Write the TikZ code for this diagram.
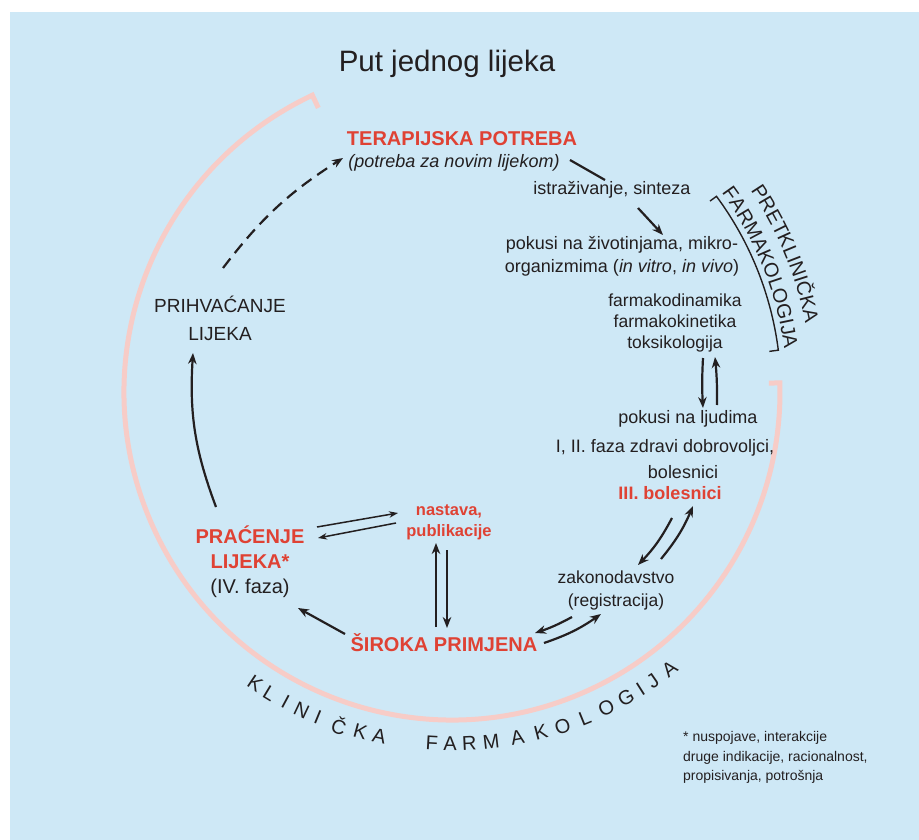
\documentclass[tikz,border=0pt]{standalone}
\usepackage{fontspec}
\setmainfont{Liberation Sans}
\usetikzlibrary{arrows.meta,calc,decorations.text}
\definecolor{bgblue}{HTML}{CEE8F6}
\definecolor{pinkarc}{HTML}{F7CCC7}
\definecolor{redt}{HTML}{DF4234}
\definecolor{ink}{HTML}{231F20}
\begin{document}
\begin{tikzpicture}[x=1pt,y=1pt,
  txt/.style={text=ink, inner sep=0pt, align=center, font=\fontsize{18}{22}\selectfont},
  redh/.style={text=redt, inner sep=0pt, align=center, font=\bfseries\fontsize{20}{24}\selectfont},
  arr/.style={draw=ink, line width=2.2pt, -{Stealth[length=11pt,width=8.5pt]}},
  arrthin/.style={draw=ink, line width=1.5pt, -{Stealth[length=9pt,width=6.5pt]}},
  plainln/.style={draw=ink, line width=2.2pt},
  pinkline/.style={draw=pinkarc, line width=5pt},
  bracketln/.style={draw=ink, line width=1.4pt},
  arcletter/.style={text=ink, inner sep=0pt, font=\fontsize{20}{20}\selectfont}]

\useasboundingbox (0,0) rectangle (919,-840);
\fill[white] (0,0) rectangle (919,-840);
\fill[bgblue] (10,-12) rectangle (919,-840);

\coordinate (C) at (452,-392);

% pink circle arc with hooks
\draw[pinkline, line join=miter] ($(C)+(115.2:314pt)$) -- ($(C)+(115.2:328pt)$)
  arc[start angle=115.2, end angle=361.6, radius=328pt] -- ($(C)+(361.6:317pt)$);

% preclinical bracket
\draw[bracketln] ($(C)+(36.5:321pt)$) -- ($(C)+(36.5:329pt)$)
  arc[start angle=36.5, end angle=7.3, radius=329pt] -- ($(C)+(7.3:320pt)$);

\path[decorate, decoration={text along path, text color=ink,
    text={|\fontsize{20}{20}\selectfont|PRETKLINIČKA}, text align=center}]
  ($(C)+(40:360pt)$) arc[start angle=40, end angle=5, radius=360pt];
\path[decorate, decoration={text along path, text color=ink,
    text={|\fontsize{20}{20}\selectfont|FARMAKOLOGIJA}, text align=center}]
  ($(C)+(39.4:335pt)$) arc[start angle=39.4, end angle=4.4, radius=335pt];

% bottom arc letters
\foreach \a/\l [count=\i] in {-124.0/K, -121.2/L, -118.2/I, -115.3/N, -112.4/I, -108.7/Č, -105.1/K, -101.9/A,
    -93.3/F, -90.3/A, -87.2/R, -83.6/M, -79.3/A, -75.4/K, -71.7/O, -67.8/L, -64.0/O, -60.4/G, -57.6/I, -55.2/J, -51.8/A}
  \node[arcletter, rotate=\a+90] (kf\i) at ($(C)+(\a:352pt)$) {\l};

% text nodes
\node[txt, font=\fontsize{29.5}{33}\selectfont] (title) at (447,-64) {Put jednog lijeka};
\node[redh] (terap) at (462,-139) {TERAPIJSKA POTREBA};
\node[txt, font=\fontsize{18}{22}\selectfont\itshape] (potreba) at (454,-163) {(potreba za novim lijekom)};
\node[txt] (istraz) at (612,-190) {istraživanje, sinteza};
\node[txt, font=\fontsize{18}{23}\selectfont] (pokusiz) at (622,-256) {pokusi na životinjama, mikro-\\organizmima (\textit{in vitro}, \textit{in vivo})};
\node[txt, font=\fontsize{17.5}{21}\selectfont] (farmako) at (675,-323) {farmakodinamika\\farmakokinetika\\toksikologija};
\node[txt] (ljudi) at (688,-419) {pokusi na ljudima};
\node[txt] (faza) at (665,-448) {I, II. faza zdravi dobrovoljci,};
\node[txt] (boles) at (683,-472) {bolesnici};
\node[redh, font=\bfseries\fontsize{18}{22}\selectfont] (iii) at (670,-493) {III. bolesnici};
\node[txt, font=\fontsize{17.5}{23}\selectfont] (zakon) at (616,-590) {zakonodavstvo\\(registracija)};
\node[redh] (siroka) at (444,-643) {ŠIROKA PRIMJENA};
\node[redh, font=\bfseries\fontsize{16.5}{21}\selectfont] (nastava) at (449,-522) {nastava,\\publikacije};
\node[redh] (pracenje) at (250,-535) {PRAĆENJE};
\node[redh] (lijeka) at (250,-562) {LIJEKA*};
\node[txt, font=\fontsize{20}{24}\selectfont] (ivfaza) at (250,-588) {(IV. faza)};
\node[txt, font=\fontsize{19}{28}\selectfont] (prihv) at (220,-318) {PRIHVAĆANJE\\LIJEKA};
\node[txt, font=\fontsize{14}{19.5}\selectfont, align=left, anchor=west] (note) at (683,-757.5) {* nuspojave, interakcije\\druge indikacije, racionalnost,\\propisivanja, potrošnja};

% connectors
\draw[plainln] ($(potreba)+(116,3)$) -- ($(istraz)+(-7,10)$);
\draw[arr] ($(istraz)+(26,-18)$) -- ($(pokusiz)+(41,21)$);
\draw[arr] ($(farmako)+(28,-35)$) to[bend right=3] ($(ljudi)+(15,11)$);
\draw[arr] ($(ljudi)+(29,14)$) to[bend right=3] ($(farmako)+(40,-34)$);
\draw[arr] ($(iii)+(2,-25)$) to[bend left=8] ($(zakon)+(22,25)$);
\draw[arr] ($(zakon)+(45,31)$) to[bend right=8] ($(iii)+(23,-13)$);
\draw[arr] ($(zakon)+(-44,-27)$) to[bend left=5] ($(siroka)+(91,10)$);
\draw[arr] ($(siroka)+(100,0)$) to[bend right=8] ($(zakon)+(-15,-24)$);
\draw[arr] ($(siroka)+(-99,9)$) -- ($(ivfaza)+(48,-20)$);
\draw[arr] ($(siroka)+(-8,16)$) -- ($(nastava)+(-13,-21)$);
\draw[arr] ($(nastava)+(-2,-28)$) -- ($(siroka)+(3,15)$);
\draw[arrthin] ($(pracenje)+(67,8)$) -- ($(nastava)+(-51,9)$);
\draw[arrthin] ($(nastava)+(-53,-1)$) -- ($(pracenje)+(68,-3)$);
\draw[arr] ($(pracenje)+(-34,28)$) to[bend left=12] ($(prihv)+(-27,-35)$);
\draw[arr, dash pattern=on 12pt off 7pt] ($(prihv)+(3,50)$) to[bend left=10] ($(potreba)+(-111,5)$);
\end{tikzpicture}
\end{document}
